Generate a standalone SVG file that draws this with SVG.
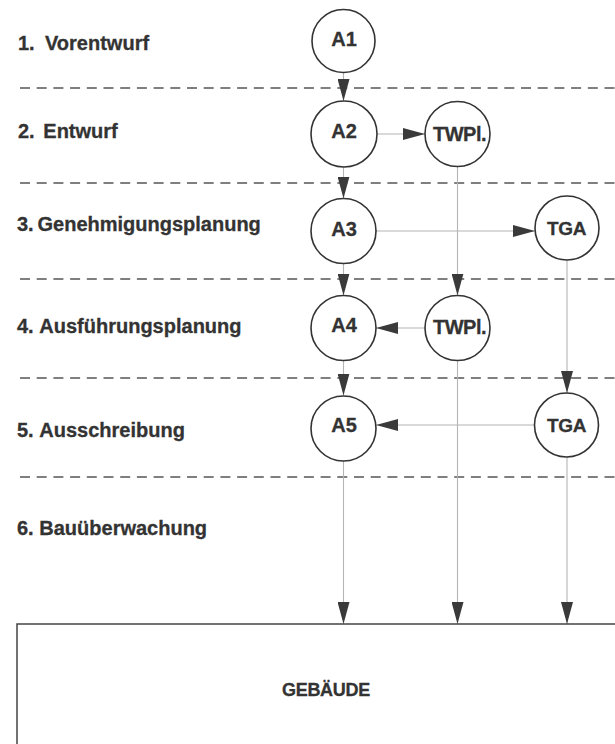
<svg xmlns="http://www.w3.org/2000/svg" width="615" height="744" viewBox="0 0 615 744">
<defs>
<style>
.lbl{font-family:"Liberation Sans",Arial,sans-serif;font-weight:bold;font-size:20px;fill:#333;stroke:#333;stroke-width:0.3}
.nt{font-family:"Liberation Sans",Arial,sans-serif;font-weight:bold;fill:#333;stroke:#333;stroke-width:0.3}
.a{font-size:20px;text-anchor:middle}
.tw{font-size:20px;letter-spacing:-0.5px}
.tg{font-size:19px;letter-spacing:-0.3px}
.node{fill:#fff;stroke:#333;stroke-width:1.6}
.dash{stroke:#555;stroke-width:1.3;stroke-dasharray:10 6.7;fill:none}
.con{stroke:#b4b4b4;stroke-width:1.1;fill:none;marker-end:url(#ah)}
</style>
<marker id="ah" markerUnits="userSpaceOnUse" markerWidth="22" markerHeight="12" refX="22" refY="6" orient="auto">
<path d="M0,0 L22,6 L0,12 Z" fill="#3a3a3a"/>
</marker>
</defs>
<rect width="615" height="744" fill="#fff"/>
<g id="phase-labels" class="lbl">
<text x="18" y="50">1.<tspan x="45">Vorentwurf</tspan></text>
<text x="18" y="138">2.<tspan x="43.3">Entwurf</tspan></text>
<text x="17" y="231">3.<tspan x="37.5">Genehmigungsplanung</tspan></text>
<text x="17" y="333">4.<tspan x="39.3">Ausführungsplanung</tspan></text>
<text x="17" y="437">5.<tspan x="39.3">Ausschreibung</tspan></text>
<text x="17" y="535">6.<tspan x="39.3">Bauüberwachung</tspan></text>
</g>
<g id="separators">
<line class="dash" x1="20" y1="88" x2="615" y2="88"/>
<line class="dash" x1="20" y1="183" x2="615" y2="183"/>
<line class="dash" x1="20" y1="279" x2="615" y2="279"/>
<line class="dash" x1="20" y1="378" x2="615" y2="378"/>
<line class="dash" x1="20" y1="477" x2="615" y2="477"/>
</g>
<g id="connectors">
<line class="con" x1="343.5" y1="72.5" x2="343.5" y2="101"/>
<line class="con" x1="343.5" y1="167" x2="343.5" y2="198.5"/>
<line class="con" x1="343.5" y1="263.5" x2="343.5" y2="295.5"/>
<line class="con" x1="343.5" y1="360.5" x2="343.5" y2="395.5"/>
<line class="con" x1="343.5" y1="461" x2="343.5" y2="624"/>
<line class="con" x1="377" y1="134" x2="425" y2="134"/>
<line class="con" x1="457.5" y1="166.5" x2="457.5" y2="295.5"/>
<line class="con" x1="457.5" y1="360.5" x2="457.5" y2="624"/>
<line class="con" x1="376" y1="231" x2="535" y2="231"/>
<line class="con" x1="567" y1="260" x2="567" y2="393"/>
<line class="con" x1="567" y1="457" x2="567" y2="624"/>
<line class="con" x1="425" y1="328" x2="376" y2="328"/>
<line class="con" x1="534.5" y1="425" x2="376" y2="425"/>
</g>
<g id="A1"><circle class="node" cx="343.5" cy="41" r="31.5"/><text class="nt a" x="344" y="45.5">A1</text></g>
<g id="A2"><circle class="node" cx="344" cy="134" r="33"/><text class="nt a" x="344" y="137.5">A2</text></g>
<g id="TWPl1"><circle class="node" cx="457.5" cy="134" r="32.5"/><text class="nt tw" x="433" y="140.7">TWPl.</text></g>
<g id="A3"><circle class="node" cx="343.5" cy="231" r="32.5"/><text class="nt a" x="344" y="235.7">A3</text></g>
<g id="TGA1"><circle class="node" cx="567" cy="228" r="32"/><text class="nt tg" x="547" y="235">TGA</text></g>
<g id="A4"><circle class="node" cx="343.5" cy="328" r="32.5"/><text class="nt a" x="344" y="331.5">A4</text></g>
<g id="TWPl2"><circle class="node" cx="457.5" cy="328" r="32.5"/><text class="nt tw" x="433" y="333.5">TWPl.</text></g>
<g id="A5"><circle class="node" cx="343.5" cy="428.5" r="32.5"/><text class="nt a" x="344" y="431.5">A5</text></g>
<g id="TGA2"><circle class="node" cx="566.5" cy="425" r="32"/><text class="nt tg" x="547" y="431.5">TGA</text></g>
<g id="building"><rect x="17" y="624" width="620" height="140" fill="#fff" stroke="#444" stroke-width="1.5"/><text class="nt" font-size="18" x="282" y="696" letter-spacing="-0.3">GEBÄUDE</text></g>
</svg>
